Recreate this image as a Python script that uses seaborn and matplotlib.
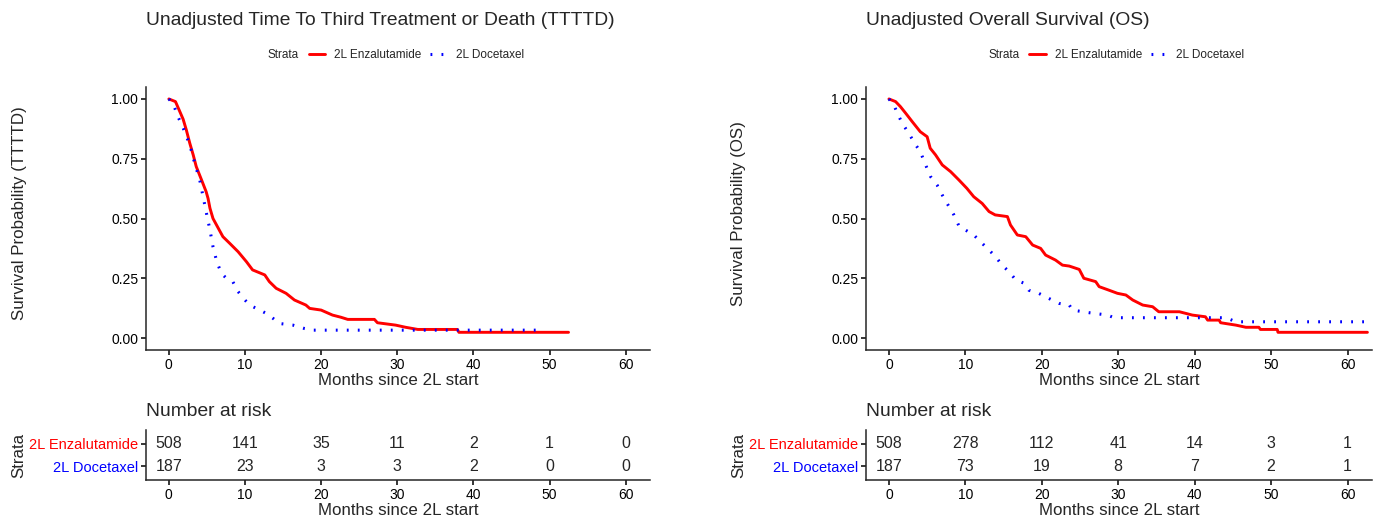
import numpy as np
import pandas as pd
import matplotlib
matplotlib.use("Agg")
import matplotlib.pyplot as plt
from matplotlib.lines import Line2D
import seaborn as sns

# ---------------- data ----------------
STRATA = ["2L Enzalutamide", "2L Docetaxel"]
COLORS = ["#FF0000", "#0000FF"]
RISK_TIMES = [0, 10, 20, 30, 40, 50, 60]
XTICKS = [0, 10, 20, 30, 40, 50, 60]
YTICKS = [0.00, 0.25, 0.50, 0.75, 1.00]
YTICK_LABELS = ["0.00", "0.25", "0.50", "0.75", "1.00"]

TITLES = ["Unadjusted Time To Third Treatment or Death (TTTTD)",
          "Unadjusted Overall Survival (OS)"]
YLABELS = ["Survival Probability (TTTTD)", "Survival Probability (OS)"]
XLABEL = "Months since 2L start"

# TTTTD - 2L Enzalutamide
TTTTD_ENZ_T = [0, 0.87, 1.35, 1.88, 2.3, 2.75, 3.2, 3.6, 4.3, 4.9, 5.15, 5.4, 5.8, 6.5,
               7.1, 8.0, 9.1, 10.2, 11.0, 12.6, 13.2, 14.1, 15.4, 16.5, 18.0, 18.5,
               20.0, 21.5, 22.6, 23.5, 27.0, 27.4, 29.8, 31.1, 32.7, 37.9, 38.1, 52.5]
TTTTD_ENZ_S = [1.0, 0.989, 0.954, 0.915, 0.87, 0.815, 0.766, 0.717, 0.661, 0.612, 0.584,
               0.543, 0.50, 0.459, 0.424, 0.396, 0.361, 0.319, 0.285, 0.264, 0.236, 0.208,
               0.187, 0.159, 0.138, 0.124, 0.117, 0.096, 0.087, 0.078, 0.078, 0.064,
               0.054, 0.045, 0.036, 0.036, 0.024, 0.024]
# TTTTD - 2L Docetaxel
TTTTD_DOC_T = [0, 0.57, 1.2, 1.9, 2.75, 3.4, 4.06, 4.5, 4.94, 5.4, 5.8, 6.3, 6.9, 7.55,
               8.4, 9.1, 10.0, 10.6, 11.5, 12.8, 13.7, 14.5, 16.3, 17.8, 18.9, 48.6]
TTTTD_DOC_S = [1.0, 0.98, 0.926, 0.877, 0.808, 0.731, 0.661, 0.591, 0.522, 0.452, 0.382,
               0.319, 0.271, 0.25, 0.236, 0.194, 0.159, 0.138, 0.124, 0.103, 0.082, 0.061,
               0.054, 0.04, 0.033, 0.033]
# OS - 2L Enzalutamide
OS_ENZ_T = [0, 0.87, 1.5, 2.2, 3.05, 4.1, 5.0, 5.4, 6.1, 6.98, 8.07, 9.16, 10.2, 11.1,
            12.2, 13.1, 13.9, 15.5, 15.9, 16.8, 17.9, 18.8, 19.85, 20.5, 21.8, 22.7, 23.6,
            24.9, 25.5, 27.05, 27.5, 28.8, 29.9, 31.0, 31.9, 33.2, 34.5, 35.3, 38.0, 39.7,
            41.4, 41.7, 43.2, 43.4, 45.4, 46.7, 48.4, 48.6, 50.8, 50.9, 62.6]
OS_ENZ_S = [1.0, 0.989, 0.968, 0.94, 0.905, 0.863, 0.842, 0.794, 0.766, 0.724, 0.696,
            0.661, 0.626, 0.591, 0.563, 0.529, 0.515, 0.508, 0.473, 0.431, 0.424, 0.389,
            0.375, 0.347, 0.326, 0.305, 0.301, 0.287, 0.25, 0.236, 0.215, 0.2, 0.187, 0.18,
            0.159, 0.138, 0.131, 0.11, 0.11, 0.096, 0.089, 0.075, 0.075, 0.064, 0.054,
            0.045, 0.045, 0.036, 0.036, 0.024, 0.024]
# OS - 2L Docetaxel
OS_DOC_T = [0, 0.65, 1.1, 1.75, 2.6, 3.5, 4.1, 4.8, 5.45, 6.3, 6.98, 7.85, 8.5, 9.2, 10.0,
            11.1, 12.2, 13.1, 13.96, 14.8, 15.7, 16.6, 17.7, 18.3, 19.6, 20.9, 22.25, 23.6,
            24.0, 26.2, 28.6, 29.45, 44.1, 45.4, 63.0]
OS_DOC_S = [1.0, 0.975, 0.94, 0.898, 0.856, 0.808, 0.78, 0.724, 0.675, 0.64, 0.598, 0.55,
            0.515, 0.466, 0.452, 0.431, 0.396, 0.368, 0.34, 0.305, 0.278, 0.243, 0.229,
            0.20, 0.187, 0.166, 0.145, 0.138, 0.117, 0.106, 0.096, 0.085, 0.085, 0.068,
            0.068]

RISK_TTTTD_ENZ = [508, 141, 35, 11, 2, 1, 0]
RISK_TTTTD_DOC = [187, 23, 3, 3, 2, 0, 0]
RISK_OS_ENZ = [508, 278, 112, 41, 14, 3, 1]
RISK_OS_DOC = [187, 73, 19, 8, 7, 2, 1]

# ---------------- style ----------------
sns.set_style("ticks")
FONT = ["Liberation Sans", "DejaVu Sans"]
plt.rcParams["font.family"] = FONT
plt.rcParams["axes.linewidth"] = 1.1
plt.rcParams["xtick.major.width"] = 1.1
plt.rcParams["ytick.major.width"] = 1.1
plt.rcParams["xtick.major.size"] = 3.5
plt.rcParams["ytick.major.size"] = 3.5
plt.rcParams["xtick.color"] = "black"
plt.rcParams["ytick.color"] = "black"

W, H = 1383, 523
fig = plt.figure(figsize=(W / 100, H / 100), dpi=100)


def px_axes(left, top, right, bottom):
    return fig.add_axes([left / W, 1 - bottom / H, (right - left) / W, (bottom - top) / H])


DOT = (0, (0.6, 3.0))


def panel(x0, x1, title, ylabel, enz_t, enz_s, doc_t, doc_s, risk_enz, risk_doc):
    ax = px_axes(x0, 87, x1, 350)
    tab = px_axes(x0, 430, x1, 480)

    d_enz = pd.DataFrame({"t": enz_t, "s": enz_s})
    d_doc = pd.DataFrame({"t": doc_t, "s": doc_s})
    sns.lineplot(data=d_enz, x="t", y="s", ax=ax, color=COLORS[0], linewidth=2.1,
                 estimator=None, sort=False, label=STRATA[0])
    sns.lineplot(data=d_doc, x="t", y="s", ax=ax, color=COLORS[1], linewidth=2.2,
                 estimator=None, sort=False, label=STRATA[1], linestyle=DOT,
                 dash_capstyle="butt")

    ax.set_xlim(-3, 63.2)
    ax.set_ylim(-0.05, 1.05)
    ax.set_xticks(XTICKS)
    ax.set_yticks(YTICKS)
    ax.set_yticklabels(YTICK_LABELS)
    ax.tick_params(labelsize=10, pad=2)
    ax.set_xlabel(XLABEL, fontsize=12.2)
    ax.set_ylabel(ylabel, fontsize=12.2)
    ax.xaxis.set_label_coords(0.5, -0.087)
    ax.yaxis.set_label_coords(-0.237, 0.52)
    sns.despine(ax=ax)

    ax.text(0, 1.251, title, transform=ax.transAxes, ha="left", va="center", fontsize=13.9)
    ax.text(0.242, 1.12, "Strata", transform=ax.transAxes, ha="left", va="center",
            fontsize=8.5)
    handles = [Line2D([], [], color=COLORS[0], lw=2.1),
               Line2D([], [], color=COLORS[1], lw=2.2, linestyle=DOT, dash_capstyle="butt")]
    ax.legend(handles, STRATA, loc="center left", bbox_to_anchor=(0.323, 1.12), ncol=2,
              frameon=False, fontsize=8.5, handlelength=1.4, handletextpad=0.75,
              columnspacing=0.75, borderaxespad=0, borderpad=0)

    # risk table
    tab.set_xlim(-3, 63.2)
    tab.set_ylim(0.4, 2.6)
    for t, n in zip(RISK_TIMES, risk_enz):
        tab.text(t, 2, str(n), ha="center", va="center", fontsize=11.5)
    for t, n in zip(RISK_TIMES, risk_doc):
        tab.text(t, 1, str(n), ha="center", va="center", fontsize=11.5)
    tab.set_xticks(XTICKS)
    tab.set_yticks([2, 1])
    tab.set_yticklabels(STRATA)
    for lab, c in zip(tab.get_yticklabels(), COLORS):
        lab.set_color(c)
    tab.tick_params(axis="y", labelsize=10.5, pad=2)
    tab.tick_params(axis="x", labelsize=10, pad=2)
    tab.set_xlabel(XLABEL, fontsize=12.2)
    tab.set_ylabel("Strata", fontsize=12.2)
    tab.xaxis.set_label_coords(0.5, -0.46)
    tab.yaxis.set_label_coords(-0.237, 0.5)
    sns.despine(ax=tab)
    tab.text(0, 1.38, "Number at risk", transform=tab.transAxes, ha="left", va="center",
             fontsize=13.9)


panel(146, 650, TITLES[0], YLABELS[0], TTTTD_ENZ_T, TTTTD_ENZ_S, TTTTD_DOC_T, TTTTD_DOC_S,
      RISK_TTTTD_ENZ, RISK_TTTTD_DOC)
panel(866, 1372, TITLES[1], YLABELS[1], OS_ENZ_T, OS_ENZ_S, OS_DOC_T, OS_DOC_S,
      RISK_OS_ENZ, RISK_OS_DOC)

fig.savefig("out.png", dpi=100, facecolor="white")
